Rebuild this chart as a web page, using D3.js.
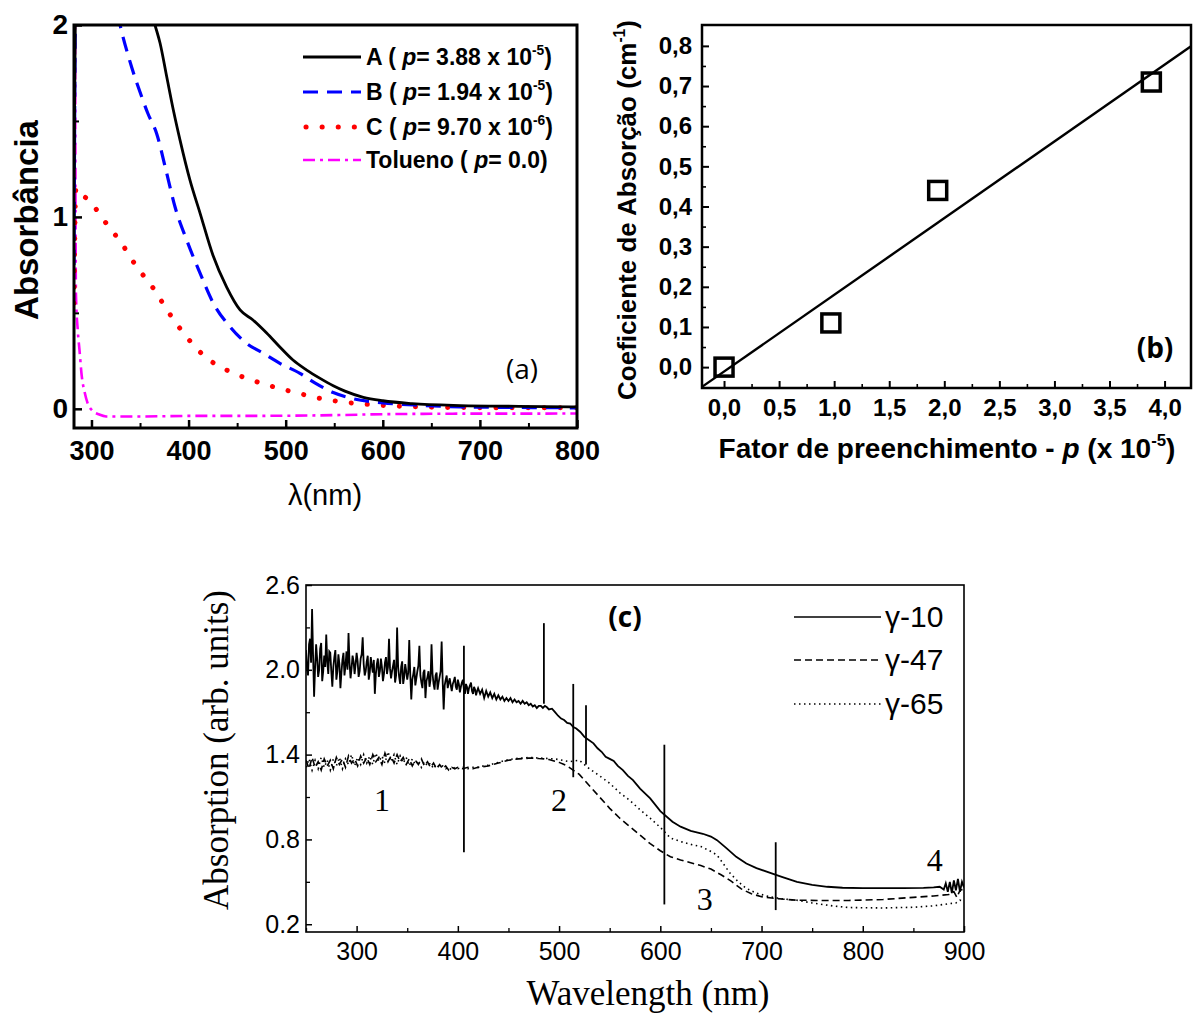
<!DOCTYPE html>
<html>
<head>
<meta charset="utf-8">
<script src="https://cdn.jsdelivr.net/npm/d3@7"></script>
<style>
  body { margin: 0; background: #fff; }
  svg { display: block; }
</style>
</head>
<body>
<script>
// ---------- panel (a): absorbance spectra ----------
const aCurveA = [[282,1.2],[284,2.4],[330,2.6],[365.4,2.0],[370.6,1.906],[377.5,1.73],[384.3,1.557],[391.2,1.40],[401.5,1.19],[411.8,1.02],[425.1,0.80],[439.2,0.634],[453,0.515],[466.3,0.463],[480.4,0.395],[494,0.322],[507.5,0.254],[521.6,0.202],[535,0.16],[549,0.12],[561,0.092],[580,0.06],[600,0.042],[630,0.027],[680,0.017],[740,0.013],[800,0.01]];
const aCurveB = [[282,0.75],[284,2.3],[310,2.5],[329.4,2.0],[341.4,1.78],[351.7,1.626],[358,1.54],[367,1.436],[377.5,1.227],[386,1.053],[398,0.88],[411.8,0.707],[425.5,0.55],[442.6,0.428],[459.8,0.341],[477,0.289],[494,0.237],[514.7,0.185],[530,0.135],[549,0.085],[570,0.052],[600,0.031],[640,0.018],[680,0.01],[740,0.007],[800,0.005]];
const aCurveC = [[282,0.55],[284,1.15],[289,1.12],[296.7,1.09],[313.9,0.975],[331,0.862],[346.6,0.74],[363.7,0.628],[379,0.506],[396.3,0.385],[416.9,0.272],[439.2,0.202],[465,0.15],[487.2,0.115],[510,0.085],[533,0.057],[560,0.035],[585,0.023],[640,0.01],[700,0.006],[800,0.005]];
const aCurveTol = [[283,2.3],[283.5,1.2],[284,0.6],[286,0.4],[287.6,0.31],[290,0.17],[292.8,0.09],[296,0.03],[301,-0.01],[308,-0.03],[315,-0.04],[350,-0.04],[400,-0.037],[450,-0.037],[500,-0.036],[550,-0.033],[600,-0.028],[650,-0.026],[700,-0.025],[750,-0.025],[800,-0.024]];
const aXTicks = [300, 400, 500, 600, 700, 800];
const aXMinor = [350, 450, 550, 650, 750];
const aYTicks = [0, 1, 2];
const aYMinor = [0.5, 1.5];
const aLegendName = ["A", "B", "C", "Tolueno"];
const aLegendP = ["3.88 x 10", "1.94 x 10", "9.70 x 10", "0.0"];
const aLegendExp = ["-5", "-5", "-6", ""];

// ---------- panel (b): absorption coefficient vs filling factor ----------
const bFill = [0, 0.97, 1.94, 3.88];
const bCoef = [0, 0.11, 0.44, 0.71];
const bFitSlope = 0.191;
const bFitIntercept = -0.011;
const bXTicks = [0, 0.5, 1, 1.5, 2, 2.5, 3, 3.5, 4];
const bXMinor = [0.25, 0.75, 1.25, 1.75, 2.25, 2.75, 3.25, 3.75];
const bYTicks = [0, 0.1, 0.2, 0.3, 0.4, 0.5, 0.6, 0.7, 0.8];
const bYMinor = [0.05, 0.15, 0.25, 0.35, 0.45, 0.55, 0.65, 0.75];

// ---------- panel (c): absorption spectra of the gamma samples ----------
const cG10 = [[250,2.14],[251,2.01],[252,1.96],[253,2.18],[254,2.22],[255,2.05],[256,2.43],[257,2.10],[258,1.81],[259,2.02],[260,2.18],[261,2.08],[262,1.95],[263,2.00],[264,2.15],[265,2.19],[266,1.92],[267,1.99],[268,2.10],[269,2.02],[270,2.25],[271,2.06],[272,1.97],[273,2.13],[274,2.12],[275,1.99],[276,1.88],[277,2.02],[278,2.09],[279,2.14],[280,1.93],[281,1.99],[282,2.11],[283,2.04],[284,1.87],[285,1.98],[286,2.07],[287,2.12],[288,1.96],[289,2.03],[290,2.13],[291,2.00],[292,2.26],[293,2.05],[294,1.94],[295,2.01],[296,2.10],[297,2.06],[298,1.97],[299,2.04],[300,2.12],[301,2.06],[302,1.95],[303,1.99],[304,2.08],[305,2.11],[306,2.23],[307,2.04],[308,1.96],[309,1.99],[310,2.06],[311,2.10],[312,1.93],[313,1.98],[314,2.09],[315,2.03],[316,1.98],[317,2.07],[318,1.83],[319,1.97],[320,2.04],[321,2.08],[322,1.95],[323,1.99],[324,2.08],[325,2.02],[326,1.92],[327,1.97],[328,2.05],[329,2.09],[330,1.97],[331,2.02],[332,2.22],[333,2.01],[334,1.94],[335,1.99],[336,2.03],[337,2.07],[338,1.91],[339,1.96],[340,2.30],[341,2.02],[342,1.95],[343,1.90],[344,2.02],[345,2.06],[346,1.90],[347,1.95],[348,2.04],[349,1.99],[350,1.93],[351,1.98],[352,2.21],[353,1.97],[354,1.79],[355,1.93],[356,1.97],[357,2.02],[358,1.89],[359,1.94],[360,1.99],[361,2.03],[362,2.17],[363,1.96],[364,1.91],[365,1.87],[366,1.98],[367,2.00],[368,1.80],[369,1.92],[370,1.95],[371,1.99],[372,1.88],[373,1.93],[374,2.18],[375,1.97],[376,1.90],[377,1.86],[378,1.96],[379,1.98],[380,1.86],[381,1.91],[382,1.95],[383,1.99],[384,2.20],[385,1.92],[386,1.72],[387,1.89],[388,1.93],[389,1.96],[390,1.87],[391,1.91],[392,1.94],[393,1.89],[394,1.85],[395,1.90],[396,1.92],[397,1.95],[398,1.88],[399,1.86],[400,1.93],[401,1.90],[402,1.84],[403,1.88],[404,1.91],[405,1.93],[406,1.86],[407,1.83],[408,1.90],[409,1.88],[410,1.83],[411,1.87],[412,1.89],[413,1.91],[414,1.85],[415,1.83],[416,1.88],[417,1.86],[418,1.82],[419,1.85],[420,1.87],[422,1.83],[424,1.86],[426,1.80],[428,1.85],[430,1.81],[432,1.84],[434,1.80],[436,1.83],[438,1.79],[440,1.82],[442,1.79],[444,1.81],[446,1.78],[448,1.80],[450,1.78],[452,1.80],[454,1.77],[456,1.79],[458,1.77],[460,1.78],[462,1.76],[464,1.78],[466,1.76],[468,1.77],[470,1.75],[472,1.76],[474,1.74],[476,1.75],[478,1.73],[480,1.745],[482,1.745],[484,1.73],[486,1.745],[488,1.735],[490,1.72],[493,1.725],[496,1.70],[499,1.675],[502,1.655],[505,1.645],[508,1.625],[511,1.62],[514,1.595],[517,1.585],[521,1.56],[525,1.525],[529,1.505],[534,1.48],[538,1.445],[542,1.42],[546,1.385],[550,1.37],[554,1.355],[558,1.32],[563,1.29],[568,1.25],[573,1.22],[580,1.16],[590,1.09],[600,1.00],[612,0.925],[620,0.89],[630,0.86],[642,0.84],[650,0.82],[656,0.795],[665,0.74],[675,0.677],[685,0.63],[695,0.597],[710,0.56],[720,0.535],[735,0.50],[750,0.478],[765,0.465],[780,0.458],[800,0.455],[820,0.455],[840,0.455],[860,0.457],[870,0.46],[876,0.465],[880,0.445],[882,0.49],[884,0.43],[886,0.50],[888,0.42],[890,0.51],[892,0.44],[894,0.52],[896,0.43],[898,0.50],[900,0.46]];
const cG47 = [[250,1.36],[253,1.30],[256,1.38],[259,1.31],[262,1.35],[265,1.29],[268,1.37],[271,1.32],[274,1.36],[277,1.30],[280,1.38],[283,1.33],[286,1.37],[289,1.31],[292,1.39],[295,1.34],[298,1.37],[301,1.32],[304,1.39],[307,1.34],[310,1.38],[313,1.33],[316,1.40],[319,1.35],[322,1.38],[325,1.33],[328,1.41],[331,1.35],[334,1.39],[337,1.34],[340,1.40],[343,1.35],[346,1.38],[349,1.33],[352,1.37],[355,1.32],[358,1.36],[361,1.33],[364,1.37],[367,1.32],[370,1.35],[373,1.31],[376,1.34],[379,1.30],[382,1.33],[385,1.30],[388,1.32],[391,1.29],[394,1.31],[397,1.30],[400,1.31],[405,1.30],[410,1.31],[415,1.30],[420,1.31],[425,1.315],[430,1.32],[435,1.33],[440,1.34],[445,1.35],[450,1.36],[455,1.365],[460,1.37],[465,1.372],[470,1.375],[475,1.375],[480,1.372],[485,1.37],[490,1.365],[495,1.355],[500,1.345],[505,1.33],[510,1.31],[520,1.26],[530,1.18],[540,1.10],[550,1.02],[560,0.95],[570,0.89],[580,0.83],[590,0.77],[600,0.72],[610,0.677],[620,0.655],[630,0.635],[640,0.615],[650,0.59],[660,0.55],[670,0.505],[680,0.45],[690,0.415],[700,0.395],[710,0.385],[720,0.378],[735,0.37],[760,0.368],[786,0.368],[820,0.375],[850,0.39],[870,0.40],[885,0.41],[890,0.43],[893,0.39],[896,0.44],[900,0.45]];
const cG65 = [[250,1.31],[253,1.37],[256,1.29],[259,1.36],[262,1.30],[265,1.38],[268,1.31],[271,1.36],[274,1.29],[277,1.37],[280,1.32],[283,1.38],[286,1.30],[289,1.37],[292,1.33],[295,1.40],[298,1.32],[301,1.38],[304,1.33],[307,1.40],[310,1.34],[313,1.39],[316,1.33],[319,1.41],[322,1.35],[325,1.39],[328,1.34],[331,1.42],[334,1.35],[337,1.40],[340,1.33],[343,1.39],[346,1.34],[349,1.38],[352,1.32],[355,1.37],[358,1.33],[361,1.36],[364,1.31],[367,1.35],[370,1.32],[373,1.34],[376,1.30],[379,1.33],[382,1.31],[385,1.32],[388,1.30],[391,1.31],[394,1.29],[397,1.31],[400,1.30],[405,1.31],[410,1.30],[415,1.31],[420,1.31],[425,1.32],[430,1.325],[435,1.335],[440,1.345],[445,1.355],[450,1.365],[455,1.37],[460,1.375],[465,1.375],[470,1.38],[475,1.378],[480,1.376],[485,1.374],[490,1.372],[495,1.37],[500,1.365],[510,1.35],[520,1.36],[530,1.30],[540,1.25],[550,1.197],[560,1.13],[570,1.075],[580,1.01],[590,0.95],[600,0.885],[610,0.81],[620,0.785],[630,0.765],[640,0.75],[650,0.715],[656,0.69],[662,0.63],[669,0.56],[677,0.50],[685,0.453],[695,0.42],[708,0.394],[720,0.38],[735,0.37],[750,0.35],[770,0.33],[786,0.318],[820,0.315],[850,0.32],[870,0.33],[885,0.345],[892,0.35],[896,0.37],[900,0.36]];
const cMarkNm = [406, 485, 514, 526.6, 604, 714];
const cMarkTop = [2.17, 2.33, 1.90, 1.75, 1.47, 0.78];
const cMarkBottom = [0.71, 1.76, 1.24, 1.33, 0.34, 0.30];
const cXTicks = [300, 400, 500, 600, 700, 800, 900];
const cXMinor = [250, 350, 450, 550, 650, 750, 850];
const cYTicks = [0.2, 0.8, 1.4, 2.0, 2.6];
const cYMinor = [0.5, 1.1, 1.7, 2.3];
const cLegendNames = ["\u03b3-10", "\u03b3-47", "\u03b3-65"];
const cRegionLabels = ["1", "2", "3", "4"];
const cRegionNm = [325, 500, 644, 871];
const cRegionY = [1.0, 1.0, 0.30, 0.58];

const SANS = "'Liberation Sans', Arial, sans-serif";
const SERIF = "'Liberation Serif', 'Times New Roman', serif";
const OPEN = "'Open Sans', sans-serif";

const svg = d3.select("body").append("svg")
  .attr("width", 1200)
  .attr("height", 1017);
const defs = svg.append("defs");

// text with italic / superscript pieces
function richText(g, x, y, parts, size, anchor) {
  const t = g.append("text").attr("x", x).attr("y", y)
    .attr("font-size", size).attr("text-anchor", anchor || "start");
  let raised = false;
  parts.forEach(p => {
    const s = t.append("tspan").text(p.t);
    if (p.italic) s.attr("font-style", "italic");
    if (p.sup) {
      s.attr("font-size", size * 0.6).attr("dy", -size * 0.42);
      raised = true;
    } else if (raised) {
      s.attr("dy", size * 0.42);
      raised = false;
    }
  });
  return t;
}

function styleAxis(g, family, size, weight) {
  g.select(".domain").remove();
  g.selectAll("text").attr("font-family", family).attr("font-size", size)
    .attr("font-weight", weight).attr("fill", "#000");
}

// =============== panel (a) ===============
{
  const x = d3.scaleLinear().domain([282, 800]).range([74, 577]);
  const y = d3.scaleLinear().domain([-0.1, 2]).range([428, 25]);
  const g = svg.append("g");

  defs.append("clipPath").attr("id", "clipA").append("rect")
    .attr("x", 74).attr("y", 25).attr("width", 503).attr("height", 403);

  const line = d3.line().x(d => x(d[0])).y(d => y(d[1])).curve(d3.curveMonotoneX);
  const curves = g.append("g").attr("clip-path", "url(#clipA)").attr("fill", "none");
  curves.append("path").datum(aCurveTol).attr("d", line)
    .attr("stroke", "#ff00ff").attr("stroke-width", 2.6).attr("stroke-dasharray", "12,5,3,5");
  curves.append("path").datum(aCurveC).attr("d", line)
    .attr("stroke", "#ff0000").attr("stroke-width", 5).attr("stroke-linecap", "round")
    .attr("stroke-dasharray", "0.1,16");
  curves.append("path").datum(aCurveB).attr("d", line)
    .attr("stroke", "#0000ff").attr("stroke-width", 3.2).attr("stroke-dasharray", "15,9");
  curves.append("path").datum(aCurveA).attr("d", line)
    .attr("stroke", "#000").attr("stroke-width", 2.8);

  // axes, ticks pointing inward
  const xa = g.append("g").attr("transform", "translate(0,428)")
    .call(d3.axisBottom(x).tickValues(aXTicks).tickSizeInner(-8).tickSizeOuter(0).tickPadding(13));
  styleAxis(xa, SANS, 27, "bold");
  xa.selectAll("line").attr("stroke-width", 2.5);
  const xm = g.append("g").attr("transform", "translate(0,428)")
    .call(d3.axisBottom(x).tickValues(aXMinor).tickSizeInner(-5).tickSizeOuter(0).tickFormat(""));
  xm.select(".domain").remove();
  xm.selectAll("line").attr("stroke-width", 2);

  const ya = g.append("g").attr("transform", "translate(74,0)")
    .call(d3.axisLeft(y).tickValues(aYTicks).tickSizeInner(-8).tickSizeOuter(0).tickPadding(6)
      .tickFormat(d3.format("d")));
  styleAxis(ya, SANS, 28, "bold");
  ya.selectAll("line").attr("stroke-width", 2.5);
  const ym = g.append("g").attr("transform", "translate(74,0)")
    .call(d3.axisLeft(y).tickValues(aYMinor).tickSizeInner(-5).tickSizeOuter(0).tickFormat(""));
  ym.select(".domain").remove();
  ym.selectAll("line").attr("stroke-width", 2);

  g.append("rect").attr("x", 74).attr("y", 25).attr("width", 503).attr("height", 403)
    .attr("fill", "none").attr("stroke", "#000").attr("stroke-width", 3);

  g.append("text").attr("transform", "translate(38,220) rotate(-90)")
    .attr("text-anchor", "middle").attr("font-family", SANS).attr("font-weight", "bold")
    .attr("font-size", 33).text("Absorbância");
  g.append("text").attr("x", 325).attr("y", 505).attr("text-anchor", "middle")
    .attr("font-family", SANS).attr("font-size", 29).text("\u03bb(nm)");
  g.append("text").attr("x", 522).attr("y", 379).attr("text-anchor", "middle")
    .attr("font-family", OPEN).attr("font-size", 28).text("(a)");

  // legend
  const leg = g.append("g").attr("font-family", SANS).attr("font-weight", "bold");
  const legStyles = [
    {c: "#000", w: 2.8, d: null},
    {c: "#0000ff", w: 3.2, d: "15,9"},
    {c: "#ff0000", w: 5, d: "0.1,16", cap: "round"},
    {c: "#ff00ff", w: 2.6, d: "12,5,3,5"}
  ];
  const legY = [57, 92, 127, 160];
  aLegendName.forEach((name, i) => {
    const st = legStyles[i];
    const l = leg.append("line").attr("x1", i === 2 ? 306 : 303).attr("x2", 361)
      .attr("y1", legY[i]).attr("y2", legY[i])
      .attr("stroke", st.c).attr("stroke-width", st.w);
    if (st.d) l.attr("stroke-dasharray", st.d);
    if (st.cap) l.attr("stroke-linecap", st.cap);
    const parts = [{t: name + " ( "}, {t: "p", italic: true}, {t: "= " + aLegendP[i]}];
    if (aLegendExp[i]) parts.push({t: aLegendExp[i], sup: true});
    parts.push({t: ")"});
    richText(leg, 366, legY[i] + 8, parts, 23);
  });
}

// =============== panel (b) ===============
{
  const x = d3.scaleLinear().domain([-0.2, 4.24]).range([702, 1191]);
  const y = d3.scaleLinear().domain([-0.052, 0.852]).range([388, 25]);
  const g = svg.append("g");
  const comma = d => d3.format(".1f")(d).replace(".", ",");

  defs.append("clipPath").attr("id", "clipB").append("rect")
    .attr("x", 702).attr("y", 25).attr("width", 489).attr("height", 363);

  const xa = g.append("g").attr("transform", "translate(0,388)")
    .call(d3.axisBottom(x).tickValues(bXTicks).tickSizeInner(-7).tickSizeOuter(0).tickPadding(11)
      .tickFormat(comma));
  styleAxis(xa, SANS, 24, "bold");
  xa.selectAll("line").attr("stroke-width", 2);
  const xm = g.append("g").attr("transform", "translate(0,388)")
    .call(d3.axisBottom(x).tickValues(bXMinor).tickSizeInner(-4).tickSizeOuter(0).tickFormat(""));
  xm.select(".domain").remove();
  xm.selectAll("line").attr("stroke-width", 1.6);

  const ya = g.append("g").attr("transform", "translate(702,0)")
    .call(d3.axisLeft(y).tickValues(bYTicks).tickSizeInner(-7).tickSizeOuter(0).tickPadding(10)
      .tickFormat(comma));
  styleAxis(ya, SANS, 24, "bold");
  ya.selectAll("line").attr("stroke-width", 2);
  const ym = g.append("g").attr("transform", "translate(702,0)")
    .call(d3.axisLeft(y).tickValues(bYMinor).tickSizeInner(-4).tickSizeOuter(0).tickFormat(""));
  ym.select(".domain").remove();
  ym.selectAll("line").attr("stroke-width", 1.6);

  const [x0, x1] = x.domain();
  g.append("line").attr("clip-path", "url(#clipB)")
    .attr("x1", x(x0)).attr("y1", y(bFitSlope * x0 + bFitIntercept))
    .attr("x2", x(x1)).attr("y2", y(bFitSlope * x1 + bFitIntercept))
    .attr("stroke", "#000").attr("stroke-width", 2.4);

  g.selectAll("rect.pt").data(bFill).enter().append("rect").attr("class", "pt")
    .attr("x", d => x(d) - 9).attr("y", (d, i) => y(bCoef[i]) - 9)
    .attr("width", 18).attr("height", 18)
    .attr("fill", "none").attr("stroke", "#000").attr("stroke-width", 3.5);

  g.append("rect").attr("x", 702).attr("y", 25).attr("width", 489).attr("height", 363)
    .attr("fill", "none").attr("stroke", "#000").attr("stroke-width", 2.5);

  const yl = g.append("g").attr("transform", "translate(636,210) rotate(-90)")
    .attr("font-family", SANS).attr("font-weight", "bold");
  richText(yl, 0, 0, [{t: "Coeficiente de Absorção (cm"}, {t: "-1", sup: true}, {t: ")"}], 26, "middle");
  const xl = g.append("g").attr("font-family", SANS).attr("font-weight", "bold");
  richText(xl, 947, 458, [{t: "Fator de preenchimento - "}, {t: "p", italic: true}, {t: " (x 10"}, {t: "-5", sup: true}, {t: ")"}], 28, "middle");
  g.append("text").attr("x", 1155).attr("y", 358).attr("text-anchor", "middle")
    .attr("font-family", OPEN).attr("font-weight", "bold").attr("font-size", 28).text("(b)");
}

// =============== panel (c) ===============
{
  const x = d3.scaleLinear().domain([250, 900]).range([306, 964]);
  const y = d3.scaleLinear().domain([0.145, 2.6]).range([932, 585]);
  const g = svg.append("g");

  defs.append("clipPath").attr("id", "clipC").append("rect")
    .attr("x", 306).attr("y", 585).attr("width", 658).attr("height", 347);

  const line = d3.line().x(d => x(d[0])).y(d => y(d[1]));
  const curves = g.append("g").attr("clip-path", "url(#clipC)").attr("fill", "none");
  curves.append("path").datum(cG65).attr("d", line)
    .attr("stroke", "#000").attr("stroke-width", 1.6).attr("stroke-dasharray", "1.5,3.5");
  curves.append("path").datum(cG47).attr("d", line)
    .attr("stroke", "#000").attr("stroke-width", 1.6).attr("stroke-dasharray", "7,4");
  curves.append("path").datum(cG10).attr("d", line)
    .attr("stroke", "#000").attr("stroke-width", 1.8);

  g.selectAll("line.mark").data(cMarkNm).enter().append("line").attr("class", "mark")
    .attr("x1", d => x(d)).attr("x2", d => x(d))
    .attr("y1", (d, i) => y(cMarkTop[i])).attr("y2", (d, i) => y(cMarkBottom[i]))
    .attr("stroke", "#000").attr("stroke-width", 1.8);

  const xa = g.append("g").attr("transform", "translate(0,932)")
    .call(d3.axisBottom(x).tickValues(cXTicks).tickSizeInner(-6).tickSizeOuter(0).tickPadding(10));
  styleAxis(xa, SANS, 25, "normal");
  xa.selectAll("line").attr("stroke-width", 1.5);
  const xm = g.append("g").attr("transform", "translate(0,932)")
    .call(d3.axisBottom(x).tickValues(cXMinor).tickSizeInner(-4).tickSizeOuter(0).tickFormat(""));
  xm.select(".domain").remove();
  xm.selectAll("line").attr("stroke-width", 1.3);

  const ya = g.append("g").attr("transform", "translate(306,0)")
    .call(d3.axisLeft(y).tickValues(cYTicks).tickSizeInner(-6).tickSizeOuter(0).tickPadding(6)
      .tickFormat(d3.format(".1f")));
  styleAxis(ya, SANS, 25, "normal");
  ya.selectAll("line").attr("stroke-width", 1.5);
  const ym = g.append("g").attr("transform", "translate(306,0)")
    .call(d3.axisLeft(y).tickValues(cYMinor).tickSizeInner(-4).tickSizeOuter(0).tickFormat(""));
  ym.select(".domain").remove();
  ym.selectAll("line").attr("stroke-width", 1.3);

  g.append("rect").attr("x", 306).attr("y", 585).attr("width", 658).attr("height", 347)
    .attr("fill", "none").attr("stroke", "#000").attr("stroke-width", 1.6);

  g.append("text").attr("transform", "translate(228,750) rotate(-90)")
    .attr("text-anchor", "middle").attr("font-family", SERIF).attr("font-size", 35)
    .text("Absorption (arb. units)");
  g.append("text").attr("x", 648).attr("y", 1005).attr("text-anchor", "middle")
    .attr("font-family", SERIF).attr("font-size", 35).text("Wavelength (nm)");
  g.append("text").attr("x", 625).attr("y", 627).attr("text-anchor", "middle")
    .attr("font-family", OPEN).attr("font-weight", "bold").attr("font-size", 28).text("(c)");

  // legend
  const legY = [617, 660, 704];
  const legDash = [null, "7,4", "1.5,3.5"];
  cLegendNames.forEach((name, i) => {
    const l = g.append("line").attr("x1", 794).attr("x2", 881)
      .attr("y1", legY[i]).attr("y2", legY[i]).attr("stroke", "#000").attr("stroke-width", 1.6);
    if (legDash[i]) l.attr("stroke-dasharray", legDash[i]);
    g.append("text").attr("x", 885).attr("y", legY[i] + 10)
      .attr("font-family", SANS).attr("font-size", 30).text(name);
  });

  g.selectAll("text.region").data(cRegionLabels).enter().append("text").attr("class", "region")
    .attr("x", (d, i) => x(cRegionNm[i])).attr("y", (d, i) => y(cRegionY[i]))
    .attr("text-anchor", "middle").attr("font-family", SERIF).attr("font-size", 32)
    .text(d => d);
}
</script>
</body>
</html>
